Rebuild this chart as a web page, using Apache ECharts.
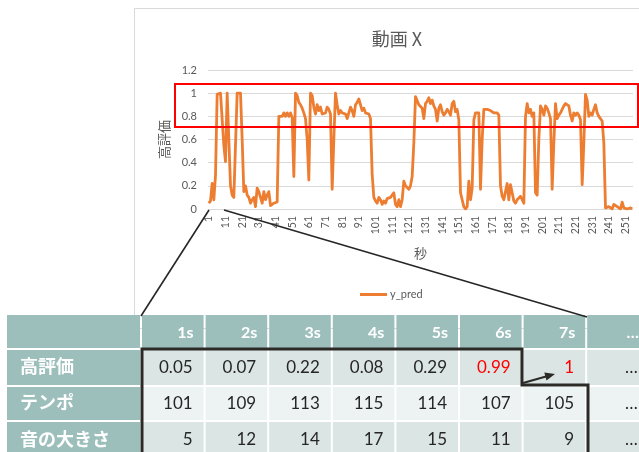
<!DOCTYPE html>
<html>
<head>
<meta charset="utf-8">
<script src="https://cdn.jsdelivr.net/npm/echarts@6/dist/echarts.min.js"></script>
<style>
  html, body { margin: 0; padding: 0; background: #ffffff; }
  #main { width: 639px; height: 452px; }
</style>
</head>
<body>
<div id="main"></div>
<script>
// Predicted "high rating" score per second of video X
const yPred = [
  0.05, 0.07, 0.22, 0.08, 0.29, 0.99, 1, 1, 1, 0.55,
  0.41, 1, 1, 0.2, 0.12, 0.1, 0.09, 1, 1, 1,
  0.6, 0.15, 0.2, 0.12, 0.1, 0.05, 0.08, 0.1, 0.02, 0.18,
  0.15, 0.1, 0.05, 0.15, 0.08, 0.12, 0.15, 0.03, 0.02, 0.05,
  0.04, 0.06, 0.8, 0.79, 0.8, 0.83, 0.8, 0.83, 0.8, 0.83,
  0.79, 0.28, 1, 0.98, 0.92, 0.9, 0.87, 0.83, 0.78, 0.6,
  0.25, 1, 0.98, 0.88, 0.82, 0.9, 0.85, 0.88, 0.82, 0.83,
  0.83, 0.88, 0.86, 0.82, 0.17, 0.6, 1, 0.9, 0.82, 0.85,
  0.83, 0.84, 0.82, 0.78, 0.83, 0.88, 0.85, 0.8, 0.9, 0.92,
  0.95, 0.94, 0.85, 0.87, 0.83, 0.83, 0.82, 0.78, 0.3, 0.1,
  0.07, 0.05, 0.1,
  0.08, 0.04, 0.07, 0.05, 0.09, 0.08, 0.10, 0.12, 0.14, 0.04,
  0.02, 0.08, 0.02, 0.08, 0.24, 0.20, 0.21, 0.17, 0.20, 0.28,
  0.57, 0.97, 0.97, 0.90, 0.89, 0.87, 0.78, 0.91, 0.93, 0.96,
  0.91, 0.94, 0.89, 0.86, 0.76, 0.87, 0.90, 0.84, 0.81, 0.83,
  0.86, 0.84, 0.81, 0.91, 0.93, 0.84, 0.86, 0.77, 0.14, 0.08,
  0.02, 0.00, 0.02, 0.24, 0.08, 0.18, 0.77, 0.83, 0.83, 0.83,
  0.17, 0.6, 0.86, 0.87, 0.86, 0.86, 0.85, 0.84, 0.83, 0.83,
  0.83, 0.81, 0.20, 0.11, 0.08, 0.07, 0.22, 0.08, 0.21, 0.14,
  0.07, 0.05, 0.08, 0.09, 0.11, 0.12, 0.05, 0.80, 0.91, 0.83,
  0.86, 0.80, 0.83, 0.14, 0.12, 0.6, 0.89, 0.86, 0.81, 0.89,
  0.87, 0.83, 0.78, 0.17, 0.57, 0.91, 0.78, 0.81, 0.83, 0.84,
  0.89, 0.91, 0.91, 0.89, 0.81, 0.76, 0.83, 0.81, 0.83, 0.81,
  0.77, 0.21, 0.57, 0.99, 0.94, 0.80, 0.83, 0.81, 0.86, 0.90,
  0.83, 0.80, 0.81, 0.76, 0.57, 0.01, 0.00, 0.02, 0.02, 0.00,
  0.04, 0.05, 0.02, 0.03, 0.00, 0.06, 0.01, 0.00, 0.00, 0.00,
  0.01, 0.00
];

// Category labels: second index 1..N
const seconds = yPred.map((_, i) => String(i + 1));

// Feature table shown under the chart
const tableColumns = ['1s', '2s', '3s', '4s', '5s', '6s', '7s', '…'];
const rowLabels = ['高評価', 'テンポ', '音の大きさ'];
const tempo = [101, 109, 113, 115, 114, 107, 105];
const loudness = [5, 12, 14, 17, 15, 11, 9];
const shownSeconds = 7;
const highlightCols = [5, 6];

const GREY = '#595959';
const ORANGE = '#ED7D31';
const LATIN = 'Lato, "Noto Sans CJK JP", sans-serif';
const CJK = '"Noto Sans CJK JP", sans-serif';

// ---------- table drawn with graphic elements ----------
const tbl = {
  left: 7, labelRight: 140, colLeft: 142, colW: 63.6,
  rowsY: [[315, 348], [350, 385], [387, 420], [422, 458]],
  teal: '#9dbfbc', shadeA: '#dbe5e4', shadeB: '#edf3f2', ink: '#262626', red: '#ff0000'
};

const tableRows = [
  yPred.slice(0, shownSeconds),
  tempo,
  loudness
];

const graphics = [];

// chart area frame
graphics.push({
  type: 'rect', silent: true, z: 0,
  shape: { x: 134.5, y: 8.5, width: 520, height: 320 },
  style: { fill: 'none', stroke: '#d9d9d9', lineWidth: 1 }
});

// highlighted score band
graphics.push({
  type: 'rect', silent: true, z: 10,
  shape: { x: 175, y: 84, width: 463, height: 43 },
  style: { fill: 'none', stroke: '#ff0000', lineWidth: 2 }
});

function cellRect(x0, x1, y0, y1, fill) {
  graphics.push({
    type: 'rect', silent: true, z: 20,
    shape: { x: x0, y: y0, width: x1 - x0, height: y1 - y0 },
    style: { fill: fill }
  });
}
function cellText(text, x, y, opts) {
  graphics.push({
    type: 'text', silent: true, z: 21,
    x: x, y: y,
    style: Object.assign({
      text: text, align: 'right', verticalAlign: 'middle',
      fontFamily: LATIN, fontSize: 17, fill: tbl.ink
    }, opts || {})
  });
}

// header row
const [hy0, hy1] = tbl.rowsY[0];
cellRect(tbl.left, tbl.labelRight, hy0, hy1, tbl.teal);
tableColumns.forEach((c, j) => {
  const x0 = tbl.colLeft + j * tbl.colW;
  const x1 = x0 + tbl.colW - 2;
  cellRect(x0, x1, hy0, hy1, tbl.teal);
  cellText(c, x1 - 10, (hy0 + hy1) / 2 + 1, { fill: '#ffffff', fontWeight: 'bold', fontSize: 16 });
});

// body rows
rowLabels.forEach((label, r) => {
  const [y0, y1] = tbl.rowsY[r + 1];
  const yc = (y0 + y1) / 2;
  cellRect(tbl.left, tbl.labelRight, y0, y1, tbl.teal);
  cellText(label, 20, yc - 1, { align: 'left', fontFamily: CJK, fontWeight: 'bold', fontSize: 18, fill: '#ffffff' });
  const shade = r % 2 === 0 ? tbl.shadeA : tbl.shadeB;
  tableColumns.forEach((c, j) => {
    const x0 = tbl.colLeft + j * tbl.colW;
    const x1 = x0 + tbl.colW - 2;
    cellRect(x0, x1, y0, y1, shade);
    const vals = tableRows[r];
    const txt = j < vals.length ? String(vals[j]) : '…';
    const isRed = r === 0 && highlightCols.indexOf(j) >= 0;
    cellText(txt, x1 - 11, yc, { fill: isRed ? tbl.red : tbl.ink });
  });
});

// outline around the first seconds of the table
graphics.push({
  type: 'polyline', silent: true, z: 22,
  shape: { points: [[142, 460], [142, 349], [522, 349], [522, 385], [588, 385], [588, 460]] },
  style: { stroke: '#2b2a26', lineWidth: 3, fill: 'none' }
});

// arrow from 6s to 7s
graphics.push({
  type: 'line', silent: true, z: 22,
  shape: { x1: 523, y1: 383, x2: 546, y2: 376.5 },
  style: { stroke: '#2b2a26', lineWidth: 2 }
});
graphics.push({
  type: 'polygon', silent: true, z: 22,
  shape: { points: [[555, 374], [546.5, 380.6], [544.3, 372.6]] },
  style: { fill: '#2b2a26' }
});

// zoom lines from the plot start down to the table
graphics.push({
  type: 'line', silent: true, z: 23,
  shape: { x1: 209, y1: 210, x2: 141, y2: 316 },
  style: { stroke: '#262626', lineWidth: 1.6 }
});
graphics.push({
  type: 'line', silent: true, z: 23,
  shape: { x1: 224, y1: 210, x2: 587, y2: 317 },
  style: { stroke: '#262626', lineWidth: 1.6 }
});

const chart = echarts.init(document.getElementById('main'));
chart.setOption({
  backgroundColor: '#ffffff',
  animation: false,
  title: {
    text: '動画 X',
    left: 392, top: 25, textAlign: 'center',
    textStyle: { fontFamily: CJK, fontSize: 18, fontWeight: 'normal', color: GREY }
  },
  legend: {
    data: ['y_pred'],
    left: 360, top: 289,
    icon: 'rect', itemWidth: 27, itemHeight: 3, itemGap: 10, padding: 0,
    textStyle: { fontFamily: LATIN, fontSize: 11, color: GREY, padding: [0, 0, 0, -2] }
  },
  grid: { left: 208, right: 6, top: 70, bottom: 243, containLabel: false },
  xAxis: {
    type: 'category',
    data: seconds,
    boundaryGap: true,
    name: '秒',
    nameLocation: 'middle',
    nameGap: 38,
    nameTextStyle: { fontFamily: CJK, fontSize: 13, color: GREY },
    axisLine: { lineStyle: { color: '#d9d9d9', width: 1 } },
    axisTick: { show: false },
    axisLabel: { interval: 9, rotate: 90, margin: 7, fontFamily: LATIN, fontSize: 10.5, color: GREY },
    splitLine: { show: false }
  },
  yAxis: {
    type: 'value',
    min: 0, max: 1.2, interval: 0.2,
    name: '高評価',
    nameLocation: 'middle',
    nameGap: 36,
    nameTextStyle: { fontFamily: CJK, fontSize: 13, color: GREY },
    axisLine: { show: false },
    axisTick: { show: false },
    axisLabel: { margin: 11, fontFamily: LATIN, fontSize: 11, color: GREY },
    splitLine: { lineStyle: { color: '#d9d9d9', width: 1 } }
  },
  series: [{
    name: 'y_pred',
    type: 'line',
    data: yPred,
    symbol: 'none',
    itemStyle: { color: ORANGE },
    lineStyle: { color: ORANGE, width: 2.8, join: 'round' },
    z: 5
  }],
  graphic: graphics
});
</script>
</body>
</html>
